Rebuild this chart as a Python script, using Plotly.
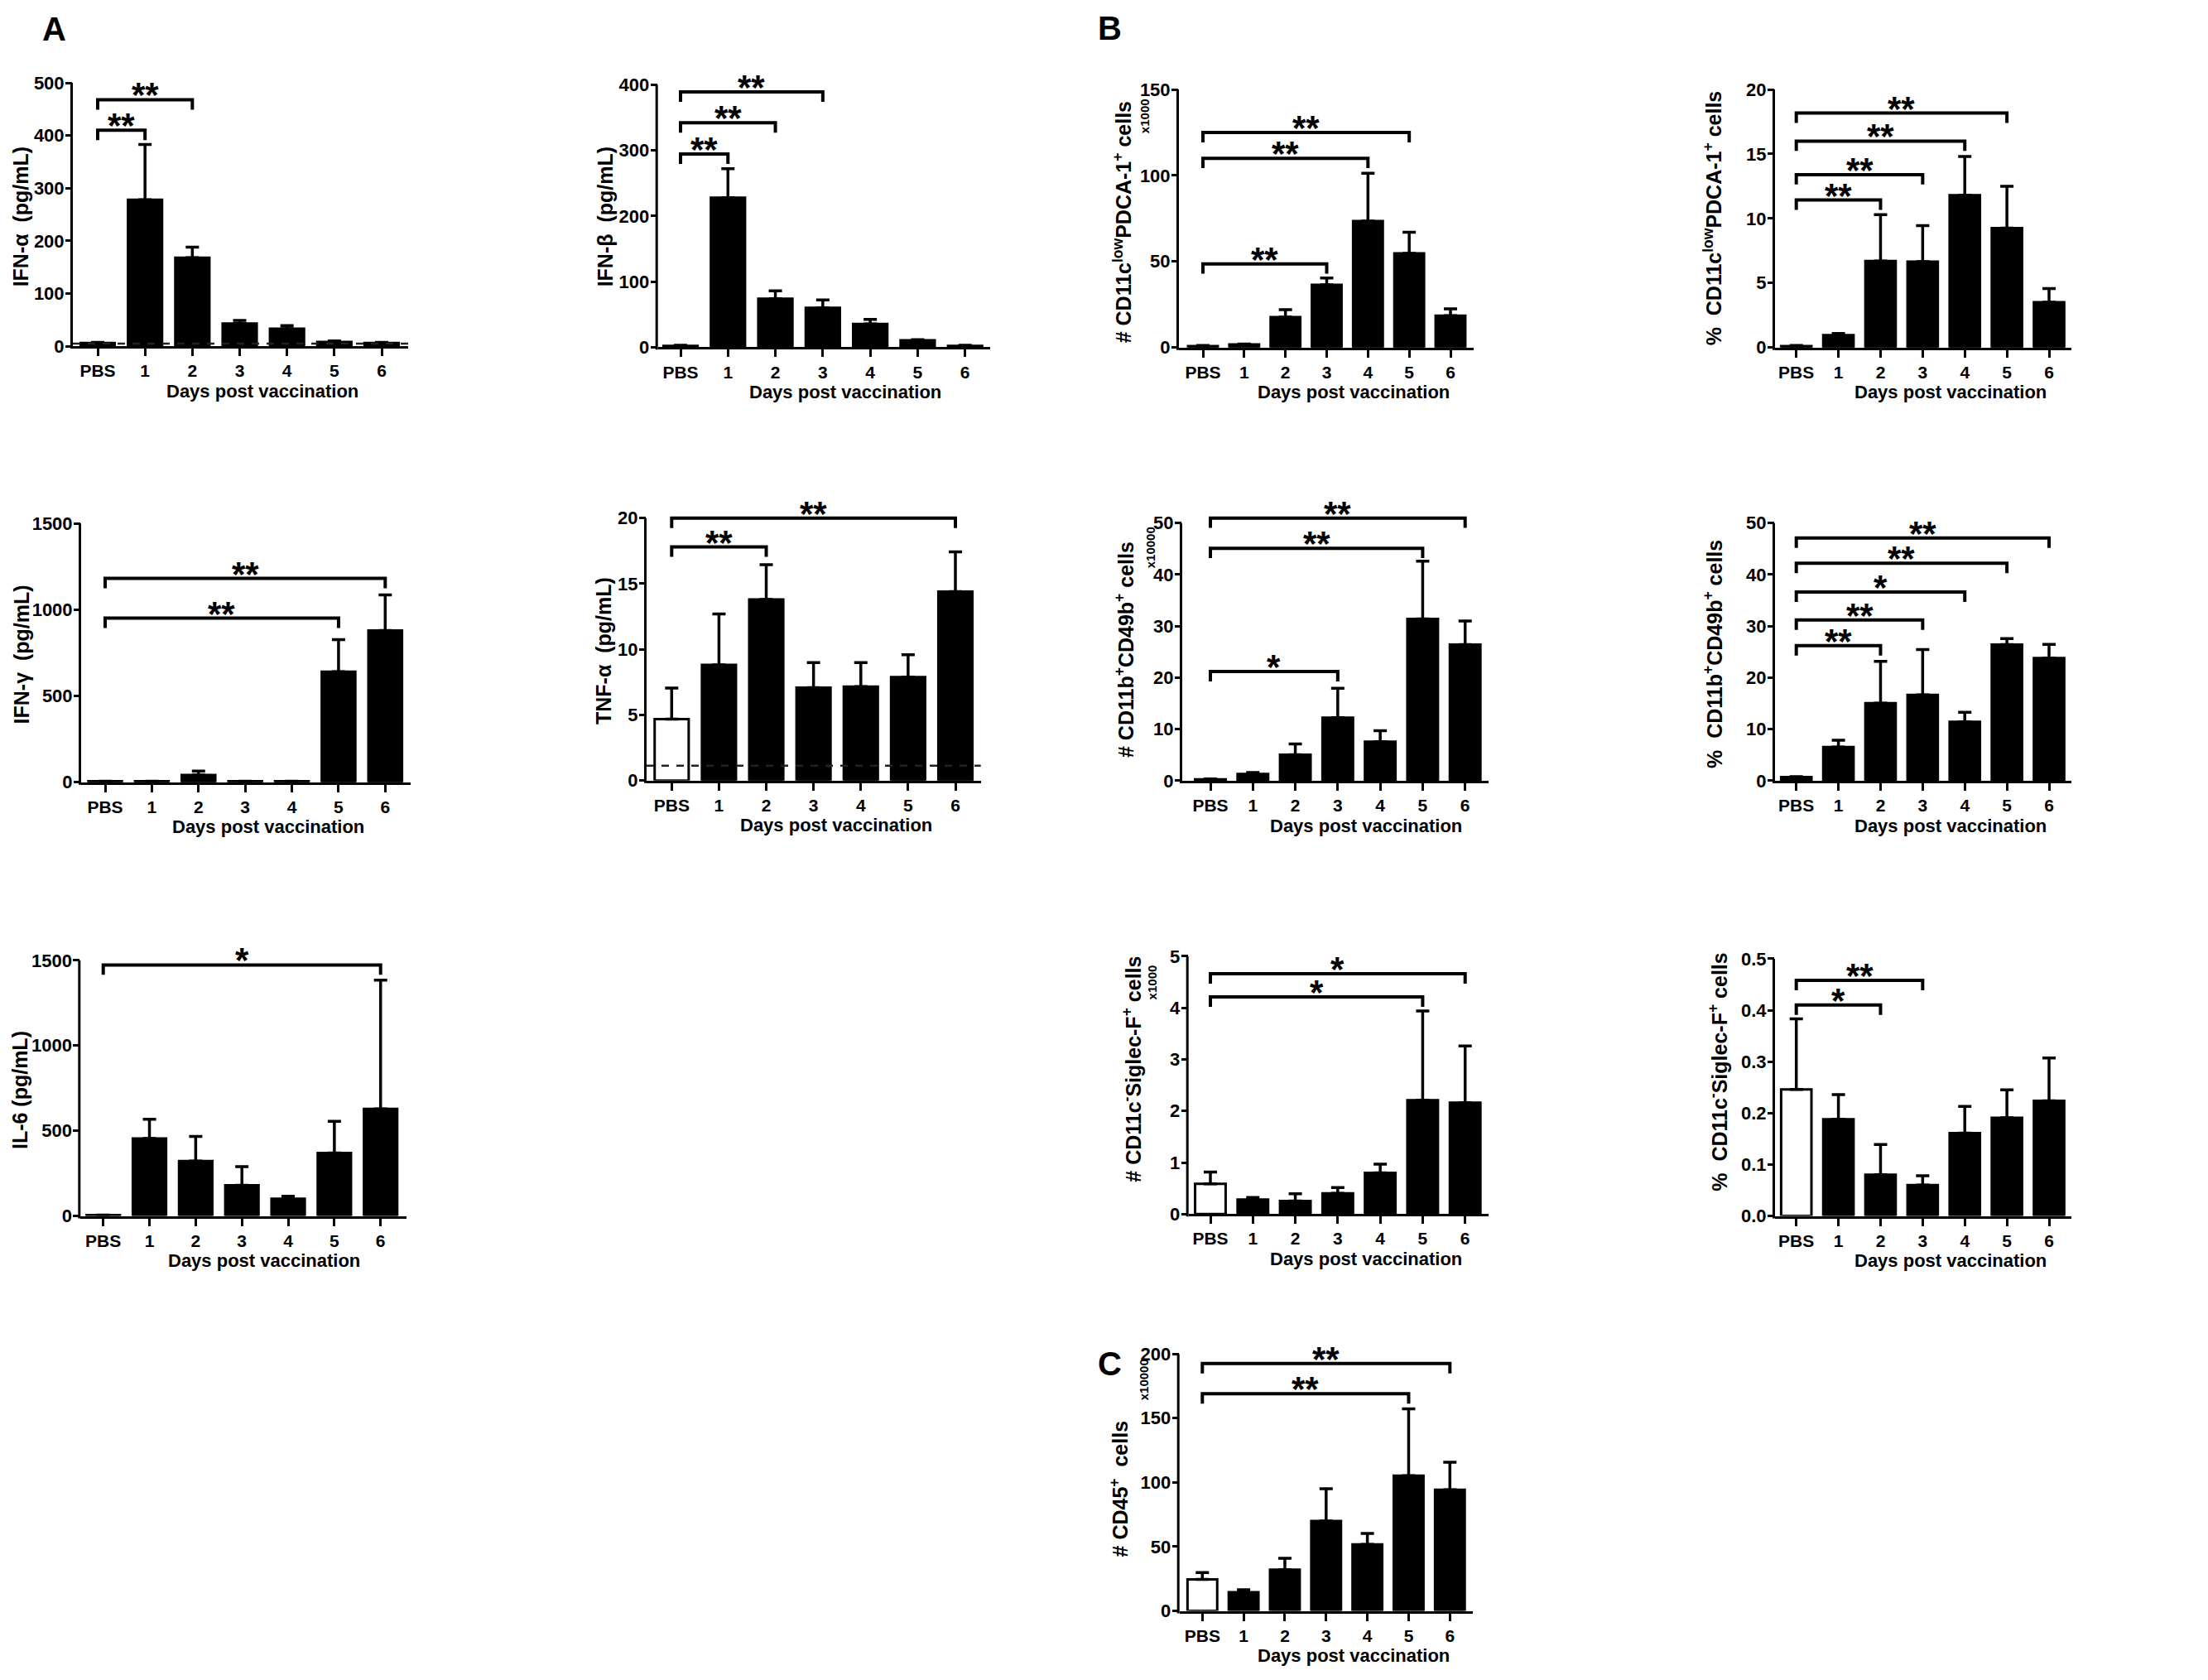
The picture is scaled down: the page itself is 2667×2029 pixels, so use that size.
import plotly.graph_objects as go

W, H = 2667, 2029
FONT = "Liberation Sans, Arial, sans-serif"

days = ["PBS", "1", "2", "3", "4", "5", "6"]

# ---- data (mean, upper SEM, significance brackets: (day index, bracket height, label)) ----
ifna_mean = [6, 278, 168, 43, 33, 8, 6]
ifna_err = [1, 105, 20, 6, 6, 2, 1]
ifna_sig = [(1, 410, "**"), (2, 468, "**")]
ifna_lod = 5
ifna_ticks = [0, 100, 200, 300, 400, 500]

ifnb_mean = [2, 228, 74, 60, 35.5, 10.5, 2]
ifnb_err = [1, 44, 12, 12, 7, 1, 1]
ifnb_sig = [(1, 294.5, "**"), (2, 342, "**"), (3, 389, "**")]
ifnb_ticks = [0, 100, 200, 300, 400]

pdc_n_mean = [0.8, 1.75, 17.7, 36.4, 73.5, 54.7, 18.5]
pdc_n_err = [0.3, 0.3, 4.3, 4.0, 27.8, 12.3, 4.0]
pdc_n_sig = [(3, 48.6, "**"), (4, 110, "**"), (5, 125, "**")]
pdc_n_ticks = [0, 50, 100, 150]

pdc_p_mean = [0.1, 0.96, 6.7, 6.65, 11.8, 9.25, 3.5]
pdc_p_err = [0.05, 0.12, 3.6, 2.8, 3.0, 3.25, 1.07]
pdc_p_sig = [(2, 11.43, "**"), (3, 13.4, "**"), (4, 16.0, "**"), (5, 18.17, "**")]
pdc_p_ticks = [0, 5, 10, 15, 20]

ifng_mean = [5, 5, 41, 5, 5, 641, 880]
ifng_err = [0, 0, 23, 0, 0, 186, 206]
ifng_sig = [(5, 951, "**"), (6, 1182, "**")]
ifng_ticks = [0, 500, 1000, 1500]

tnfa_mean = [4.68, 8.82, 13.8, 7.08, 7.15, 7.88, 14.4]
tnfa_err = [2.36, 3.87, 2.65, 1.9, 1.84, 1.71, 3.03]
tnfa_sig = [(2, 17.8, "**"), (6, 20.0, "**")]
tnfa_lod = 1.13
tnfa_ticks = [0, 5, 10, 15, 20]

nk_n_mean = [0.27, 1.33, 5.05, 12.23, 7.6, 31.4, 26.4]
nk_n_err = [0.1, 0.27, 2.1, 5.7, 2.1, 11.2, 4.6]
nk_n_sig = [(3, 21.2, "*"), (5, 45.1, "**"), (6, 50.96, "**")]
nk_n_ticks = [0, 10, 20, 30, 40, 50]

nk_p_mean = [0.7, 6.54, 15.05, 16.65, 11.44, 26.4, 23.8]
nk_p_err = [0.1, 1.33, 8.1, 8.8, 1.86, 1.17, 2.66]
nk_p_sig = [(2, 26.2, "**"), (3, 31.2, "**"), (4, 36.6, "*"), (5, 42.2, "**"), (6, 47.1, "**")]
nk_p_ticks = [0, 10, 20, 30, 40, 50]

il6_mean = [5, 455, 322, 180, 101, 370, 628]
il6_err = [0, 113, 145, 110, 15, 185, 756]
il6_sig = [(6, 1473, "*")]
il6_ticks = [0, 500, 1000, 1500]

eos_n_mean = [0.585, 0.28, 0.255, 0.404, 0.80, 2.21, 2.16]
eos_n_err = [0.23, 0.04, 0.14, 0.11, 0.17, 1.73, 1.1]
eos_n_sig = [(5, 4.21, "*"), (6, 4.66, "*")]
eos_n_ticks = [0, 1, 2, 3, 4, 5]

eos_p_mean = [0.246, 0.188, 0.08, 0.06, 0.161, 0.191, 0.224]
eos_p_err = [0.137, 0.048, 0.059, 0.018, 0.052, 0.054, 0.083]
eos_p_sig = [(2, 0.41, "*"), (3, 0.458, "**")]
eos_p_ticks = [0.0, 0.1, 0.2, 0.3, 0.4, 0.5]

cd45_mean = [24.5, 14.5, 32, 70, 51.7, 105.2, 94.3]
cd45_err = [5.3, 1.9, 9, 25, 8.5, 52, 21.4]
cd45_sig = [(5, 169, "**"), (6, 192.5, "**")]
cd45_ticks = [0, 50, 100, 150, 200]

# ---- panel layout (pixel geometry: axis left, axis right, PBS centre, day-6 centre, y of 0, y of top tick) ----
panels = [
    dict(mean=ifna_mean, err=ifna_err, sig=ifna_sig, ticks=ifna_ticks, lod=ifna_lod, open_pbs=False,
         title="IFN-α  (pg/mL)", box=(80, 485, 110, 453, 412.7, 92.7), yt=(17, 255), xt=309, unit=None),
    dict(mean=ifnb_mean, err=ifnb_err, sig=ifnb_sig, ticks=ifnb_ticks, lod=None, open_pbs=False,
         title="IFN-β  (pg/mL)", box=(786.7, 1188, 814, 1157.7, 414, 95), yt=(723, 255), xt=1013, unit=None),
    dict(mean=pdc_n_mean, err=pdc_n_err, sig=pdc_n_sig, ticks=pdc_n_ticks, lod=None, open_pbs=False,
         title="# CD11c<sup>low</sup>PDCA-1<sup>+</sup> cells", box=(1416, 1771.7, 1445, 1744, 414.3, 100.7),
         yt=(1348, 262), xt=1626.7, unit=("x1000", 1374, 133)),
    dict(mean=pdc_p_mean, err=pdc_p_err, sig=pdc_p_sig, ticks=pdc_p_ticks, lod=None, open_pbs=False,
         title="%  CD11c<sup>low</sup>PDCA-1<sup>+</sup> cells", box=(2136, 2494, 2161.7, 2467, 414.3, 100.7),
         yt=(2061, 257), xt=2348, unit=None),
    dict(mean=ifng_mean, err=ifng_err, sig=ifng_sig, ticks=ifng_ticks, lod=None, open_pbs=False,
         title="IFN-γ  (pg/mL)", box=(90, 488, 119, 457.3, 942.7, 628.3), yt=(18, 787.5), xt=316, unit=None),
    dict(mean=tnfa_mean, err=tnfa_err, sig=tnfa_sig, ticks=tnfa_ticks, lod=tnfa_lod, open_pbs=True,
         title="TNF-α  (pg/mL)", box=(773, 1176.7, 803.3, 1146, 940.7, 621.7), yt=(721, 783), xt=1001.7, unit=None),
    dict(mean=nk_n_mean, err=nk_n_err, sig=nk_n_sig, ticks=nk_n_ticks, lod=None, open_pbs=False,
         title="# CD11b<sup>+</sup>CD49b<sup>+</sup> cells", box=(1420, 1790, 1454, 1761.7, 941, 627.7),
         yt=(1350, 782), xt=1642, unit=("x10000", 1381, 657.5)),
    dict(mean=nk_p_mean, err=nk_p_err, sig=nk_p_sig, ticks=nk_p_ticks, lod=None, open_pbs=False,
         title="%  CD11b<sup>+</sup>CD49b<sup>+</sup> cells", box=(2136, 2494, 2161.7, 2467, 941, 627.7),
         yt=(2061, 787), xt=2348, unit=None),
    dict(mean=il6_mean, err=il6_err, sig=il6_sig, ticks=il6_ticks, lod=None, open_pbs=False,
         title="IL-6 (pg/mL)", box=(89.3, 482.7, 116.7, 451.7, 1470, 1159.3), yt=(16, 1317.5), xt=310.8, unit=None),
    dict(mean=eos_n_mean, err=eos_n_err, sig=eos_n_sig, ticks=eos_n_ticks, lod=None, open_pbs=True,
         title="# CD11c<sup>-</sup>Siglec-F<sup>+</sup> cells", box=(1427.7, 1790, 1454, 1761.7, 1467.7, 1154.3),
         yt=(1359, 1292), xt=1641.7, unit=("x1000", 1383, 1186)),
    dict(mean=eos_p_mean, err=eos_p_err, sig=eos_p_sig, ticks=eos_p_ticks, lod=None, open_pbs=True,
         title="%  CD11c<sup>-</sup>Siglec-F<sup>+</sup> cells", box=(2136, 2494, 2161.7, 2467, 1470, 1157.3),
         yt=(2067, 1295), xt=2348, unit=None, fmt="{:.1f}"),
    dict(mean=cd45_mean, err=cd45_err, sig=cd45_sig, ticks=cd45_ticks, lod=None, open_pbs=True,
         title="# CD45<sup>+</sup>  cells", box=(1416.7, 1770.7, 1444.3, 1743.3, 1950, 1637.7),
         yt=(1344, 1802), xt=1626.7, unit=("x10000", 1373, 1669)),
]

panel_letters = [("A", 57, 27), ("B", 1332, 26), ("C", 1332, 1650)]

EXT = 1.08
fig = go.Figure()
layout = dict(width=W, height=H, margin=dict(l=0, r=0, t=0, b=0), showlegend=False,
              paper_bgcolor="white", plot_bgcolor="white",
              font=dict(family=FONT, color="black", size=22, weight="bold"))
annotations = []
shapes = []

for i, p in enumerate(panels, start=1):
    sfx = "" if i == 1 else str(i)
    xa, ya = "x" + sfx, "y" + sfx
    L, R, p0, p6, yb, ytp = p["box"]
    sp = (p6 - p0) / 6.0
    xr = [-(p0 - L) / sp, 6 + (R - p6) / sp]
    ymax = p["ticks"][-1]
    top_px = yb - (yb - ytp) * EXT
    fmt = p.get("fmt", "{:g}")
    layout["xaxis" + sfx] = dict(
        domain=[L / W, R / W], range=xr, anchor=ya, showgrid=False, zeroline=False,
        showline=True, linecolor="black", linewidth=3, ticks="outside", ticklen=9, tickwidth=3,
        tickcolor="black", tickvals=list(range(7)), ticktext=days,
        tickfont=dict(family=FONT, size=21, color="black", weight="bold"), fixedrange=True)
    layout["yaxis" + sfx] = dict(
        domain=[1 - yb / H, 1 - top_px / H], range=[0, ymax * EXT], anchor=xa, showgrid=False,
        zeroline=False, showline=False, ticks="outside", ticklen=8, tickwidth=3, tickcolor="black",
        tickvals=p["ticks"], ticktext=[fmt.format(t) for t in p["ticks"]], ticklabelstandoff=-3,
        tickfont=dict(family=FONT, size=22, color="black", weight="bold"), fixedrange=True)

    # y axis line ending at the top tick
    shapes.append(dict(type="line", xref="paper", yref="paper", x0=(L - 1.5) / W, x1=(L - 1.5) / W,
                       y0=1 - (yb + 3) / H, y1=1 - ytp / H, line=dict(color="black", width=3)))

    colors = ["white" if (j == 0 and p["open_pbs"]) else "black" for j in range(len(days))]
    fig.add_trace(go.Bar(
        x=list(range(len(days))), y=p["mean"], width=0.72,
        marker=dict(color=colors, line=dict(color="black", width=3)),
        error_y=dict(type="data", symmetric=False, array=p["err"], arrayminus=[0] * len(days),
                     color="black", thickness=3.5, width=8),
        xaxis=xa, yaxis=ya, hoverinfo="skip"))

    if p["lod"] is not None:
        shapes.append(dict(type="line", xref=xa + " domain", yref=ya, x0=0, x1=1, y0=p["lod"], y1=p["lod"],
                           line=dict(color="#222222", width=2.5, dash="dash")))

    drop = 12.0 * ymax / (yb - ytp)
    for (k, yv, lab) in p["sig"]:
        fig.add_trace(go.Scatter(x=[0, 0, k, k], y=[yv - drop, yv, yv, yv - drop], mode="lines",
                                 line=dict(color="black", width=4), xaxis=xa, yaxis=ya,
                                 hoverinfo="skip"))
        annotations.append(dict(x=k / 2.0, y=yv, xref=xa, yref=ya, text=lab, showarrow=False,
                                xanchor="center", yanchor="bottom", yshift=-20,
                                font=dict(family=FONT, size=42, color="black", weight="bold")))

    # axis titles
    annotations.append(dict(x=p["xt"] / W, y=1 - (yb + 40) / H, xref="paper", yref="paper",
                            text="Days post vaccination", showarrow=False, xanchor="center",
                            yanchor="top", font=dict(family=FONT, size=22, color="black", weight="bold")))
    cx, cy = p["yt"]
    annotations.append(dict(x=cx / W, y=1 - cy / H, xref="paper", yref="paper", text=p["title"],
                            showarrow=False, textangle=-90, xanchor="center", yanchor="middle",
                            font=dict(family=FONT, size=25, color="black", weight="bold")))
    if p["unit"] is not None:
        ut, ux, uy = p["unit"]
        annotations.append(dict(x=ux / W, y=1 - uy / H, xref="paper", yref="paper", text=ut,
                                showarrow=False, textangle=-90, xanchor="center", yanchor="middle",
                                font=dict(family=FONT, size=15, color="black", weight="bold")))

for (lt, lx, ly) in panel_letters:
    annotations.append(dict(x=lx / W, y=1 - ly / H, xref="paper", yref="paper", text=lt,
                            showarrow=False, xanchor="center", yanchor="middle",
                            font=dict(family=FONT, size=40, color="black", weight="bold")))

layout["annotations"] = annotations
layout["shapes"] = shapes
fig.update_layout(**layout)
fig.write_html("out.html")
